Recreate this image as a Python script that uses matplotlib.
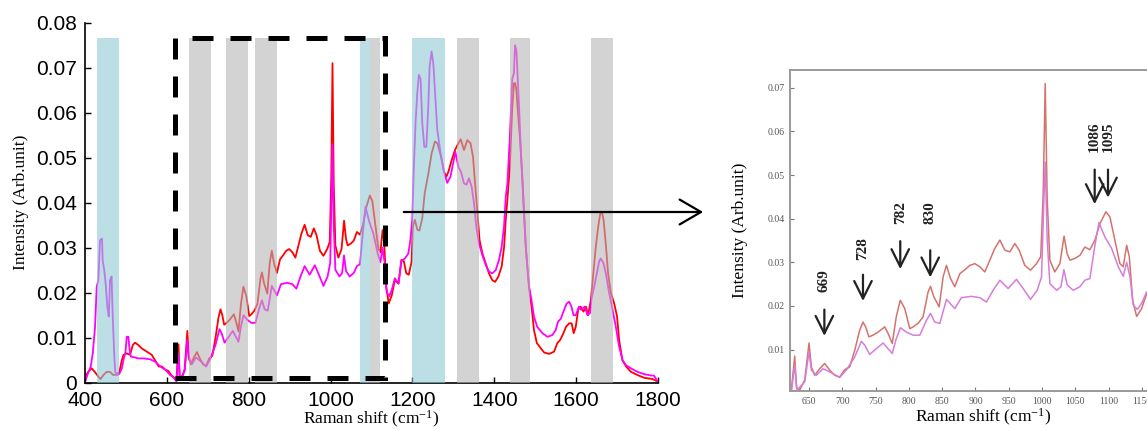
import matplotlib
matplotlib.use('Agg')
import matplotlib.pyplot as plt
from matplotlib.patches import Rectangle, FancyArrowPatch

plt.rcParams['mathtext.default'] = 'regular'

# spectrum 1 (red trace)
shift_red = [400, 408, 416, 424, 433, 438, 445, 453, 461, 469, 477, 484, 490, 494, 502, 510,
             517, 522, 530, 539, 551, 563, 571, 580, 588, 596, 604, 612, 617,
             623.4, 628.5, 631, 636, 643.5, 650, 653.5, 658.5, 666, 673.5, 681, 688.5, 696,
             703.6, 711, 718.6, 726, 731, 735, 740, 746, 753.7, 763.7, 768.7, 775, 781, 787,
             793.8, 801.3, 806.3, 813.8, 821.3, 828.8, 832.4, 837.4, 845.4, 851.4, 856.4,
             862.4, 868.9, 876.5, 884, 891.5, 899, 906.5, 914, 921.5, 929, 936.6, 944, 951.6,
             959, 965.6, 974, 982.6, 991.7, 998, 1001.7, 1004.7, 1007.7, 1011.7, 1019, 1026.8,
             1033, 1037.6, 1041.8, 1049.3, 1056.8, 1064.3, 1071.8, 1079.4, 1086.9, 1095.9,
             1101.9, 1109.4, 1116.9, 1121.9, 1127, 1131, 1136, 1142, 1149.5, 1157,
             1166, 1173, 1179, 1185, 1191, 1198, 1201, 1206, 1212, 1217, 1224, 1230, 1239, 1247,
             1255, 1261, 1269, 1277, 1283, 1288, 1296, 1304, 1310, 1318, 1326, 1334, 1342, 1348,
             1353, 1359, 1364, 1371, 1379, 1387, 1395, 1402, 1410, 1418, 1424, 1428, 1432, 1438,
             1444, 1448, 1451, 1454, 1458, 1463, 1469, 1473, 1477, 1481, 1485, 1491, 1497, 1504,
             1514, 1522, 1534, 1546, 1554, 1561, 1569, 1575, 1583, 1589, 1594, 1599, 1605, 1611,
             1618, 1624, 1629, 1636, 1642, 1648, 1654, 1659, 1663, 1667, 1673, 1678, 1685, 1693,
             1700, 1705, 1713, 1722, 1734, 1750, 1766, 1787, 1800]
int_red = [0.0013, 0.0024, 0.0032, 0.0024, 0.0013, 0.0008, 0.0017, 0.0024, 0.0024, 0.0017, 0.0018,
           0.0024, 0.0050, 0.0062, 0.0065, 0.0062, 0.0084, 0.0089, 0.0084, 0.0076, 0.0069, 0.0062,
           0.0050, 0.0036, 0.0036, 0.0029, 0.0026, 0.0015, 0.0012,
           0.0007, 0.0085, 0.0014, 0.0007, 0.0030, 0.0115, 0.0060, 0.0041, 0.0056, 0.0068, 0.0053,
           0.0041, 0.0037, 0.0054, 0.0060, 0.0098, 0.0144, 0.0163, 0.0152, 0.0129, 0.0133, 0.0140,
           0.0152, 0.0137, 0.0114, 0.0175, 0.0213, 0.0194, 0.0148, 0.0152, 0.0160, 0.0175, 0.0232,
           0.0245, 0.0221, 0.0198, 0.0267, 0.0293, 0.0263, 0.0244, 0.0274, 0.0283, 0.0293, 0.0297,
           0.0290, 0.0278, 0.0305, 0.0332, 0.0351, 0.0328, 0.0324, 0.0343, 0.0328, 0.0293, 0.0282,
           0.0297, 0.0313, 0.0458, 0.0710, 0.0443, 0.0305, 0.0278, 0.0297, 0.0360, 0.0320, 0.0305,
           0.0309, 0.0316, 0.0335, 0.0329, 0.0351, 0.0389, 0.0416, 0.0404, 0.0351, 0.0297, 0.0290,
           0.0339, 0.0313, 0.0213, 0.0176, 0.0194, 0.0228,
           0.0220, 0.0273, 0.0270, 0.0243, 0.0240, 0.0269, 0.0347, 0.0362, 0.0340, 0.0338, 0.0365,
           0.0421, 0.0465, 0.0510, 0.0536, 0.0532, 0.0506, 0.0469, 0.0458, 0.0469, 0.0495, 0.0517,
           0.0528, 0.0541, 0.0517, 0.0539, 0.0532, 0.0502, 0.0443, 0.0376, 0.0317, 0.0287, 0.0265,
           0.0243, 0.0228, 0.0224, 0.0236, 0.0258, 0.0302, 0.0362, 0.0406, 0.0480, 0.0613, 0.0665,
           0.0666, 0.0650, 0.0599, 0.0539, 0.0450, 0.0376, 0.0302, 0.0254, 0.0211, 0.0169, 0.0117,
           0.0088, 0.0076, 0.0067, 0.0064, 0.0069, 0.0088, 0.0095, 0.0110, 0.0124, 0.0132, 0.0132,
           0.0110, 0.0124, 0.0162, 0.0169, 0.0158, 0.0169, 0.0150, 0.0184, 0.0243, 0.0302, 0.0347,
           0.0376, 0.0379, 0.0362, 0.0302, 0.0243, 0.0199, 0.0176, 0.0147, 0.0095, 0.0050, 0.0036,
           0.0024, 0.0017, 0.0011, 0.0008, 0.0002]

# spectrum 2 (magenta trace)
shift_mag = [400, 407, 414, 419, 424.5, 428.6, 432.6, 436.7, 441.6, 443, 447, 450.4, 454.6, 458,
             459.6, 461, 465, 467, 469, 472, 474, 479, 484, 490, 494, 499, 502, 506, 509, 512,
             518, 530, 543, 559, 571, 584, 596, 608, 614,
             623.4, 628.5, 632, 643.5, 650, 653.5, 661, 671, 681, 696, 706, 718.6, 728.6, 733.7,
             741, 751.2, 761.2, 768.7, 775, 781, 787.3, 796.3, 806.3, 816.3, 826.3, 832.4, 838.8,
             846.4, 856.4, 868.9, 878.9, 894, 906.5, 916.5, 926.5, 936.6, 949, 961.5, 971.5,
             982.6, 992.7, 999.2, 1002.7, 1004.7, 1007.7, 1011.7, 1021.8, 1028.3, 1032.8, 1037.8,
             1046.8, 1056.8, 1064.3, 1071.8, 1079.4, 1085.4, 1094.4, 1104.4, 1114.4, 1121.9, 1127,
             1132, 1137, 1143, 1149.5, 1157,
             1166, 1173, 1181.5, 1190, 1195, 1199.5, 1203.5, 1207.6, 1211.8, 1215.7, 1220, 1224,
             1229, 1234, 1238.7, 1242, 1246.8, 1251, 1255, 1260.7, 1268.8, 1277, 1285, 1293, 1301,
             1305, 1312, 1318.5, 1326, 1332, 1338, 1344.7, 1350.4, 1356, 1362.5, 1371, 1379, 1387,
             1395, 1403.5, 1411.5, 1418, 1423.8, 1428, 1432, 1437.7, 1444, 1448, 1450.7, 1454,
             1456.6, 1460.5, 1464.6, 1468.7, 1472.8, 1476.9, 1481, 1485, 1490.8, 1497, 1505,
             1517.7, 1530, 1542, 1550, 1556, 1562.5, 1570.7, 1577, 1583, 1588.6, 1593.6, 1599,
             1607, 1612, 1621, 1627.8, 1634, 1637.7, 1644, 1650.6, 1656, 1660, 1667, 1672.6,
             1680.7, 1689, 1697, 1705, 1713.5, 1721.6, 1733.8, 1750, 1766.4, 1782.7, 1790, 1800]
int_mag = [0.0002, 0.0020, 0.0036, 0.0065, 0.0124, 0.0213, 0.0228, 0.0317, 0.0320, 0.0273, 0.0250,
           0.0221, 0.0169, 0.0147, 0.0184, 0.0228, 0.0236, 0.0169, 0.0117, 0.0050, 0.0024, 0.0017,
           0.0020, 0.0032, 0.0050, 0.0069, 0.0102, 0.0102, 0.0073, 0.0058, 0.0057, 0.0054, 0.0054,
           0.0052, 0.0047, 0.0036, 0.0029, 0.0017, 0.0014,
           0.0003, 0.0064, 0.0007, 0.0026, 0.0095, 0.0053, 0.0041, 0.0056, 0.0049, 0.0036, 0.0053,
           0.0083, 0.0119, 0.0110, 0.0089, 0.0102, 0.0115, 0.0102, 0.0091, 0.0125, 0.0150, 0.0140,
           0.0133, 0.0133, 0.0167, 0.0183, 0.0163, 0.0160, 0.0215, 0.0194, 0.0219, 0.0222, 0.0219,
           0.0209, 0.0236, 0.0259, 0.0240, 0.0261, 0.0240, 0.0215, 0.0236, 0.0267, 0.0443, 0.0530,
           0.0351, 0.0251, 0.0236, 0.0244, 0.0283, 0.0248, 0.0236, 0.0244, 0.0259, 0.0263, 0.0339,
           0.0391, 0.0358, 0.0332, 0.0290, 0.0268, 0.0300, 0.0267, 0.0202, 0.0192, 0.0206, 0.0232,
           0.0221, 0.0270, 0.0276, 0.0287, 0.0317, 0.0362, 0.0480, 0.0577, 0.0643, 0.0684, 0.0675,
           0.0577, 0.0524, 0.0524, 0.0613, 0.0702, 0.0736, 0.0710, 0.0650, 0.0562, 0.0510, 0.0469,
           0.0444, 0.0458, 0.0495, 0.0513, 0.0480, 0.0469, 0.0443, 0.0440, 0.0454, 0.0436, 0.0399,
           0.0347, 0.0310, 0.0283, 0.0262, 0.0247, 0.0243, 0.0250, 0.0273, 0.0302, 0.0347, 0.0413,
           0.0443, 0.0539, 0.0675, 0.0688, 0.0750, 0.0739, 0.0688, 0.0613, 0.0524, 0.0443, 0.0369,
           0.0302, 0.0258, 0.0213, 0.0184, 0.0147, 0.0124, 0.0110, 0.0102, 0.0106, 0.0117, 0.0136,
           0.0142, 0.0162, 0.0176, 0.0180, 0.0169, 0.0150, 0.0150, 0.0169, 0.0162, 0.0169, 0.0150,
           0.0155, 0.0188, 0.0213, 0.0243, 0.0269, 0.0276, 0.0265, 0.0243, 0.0199, 0.0162, 0.0124,
           0.0080, 0.0050, 0.0039, 0.0032, 0.0024, 0.0019, 0.0016, 0.0016, 0.0002]

# highlighted spectral windows (cm-1)
blue_bands = [(430, 482), (1072, 1097), (1199, 1280)]
gray_bands = [(654, 708), (745, 798), (815, 869), (1097, 1121), (1309, 1363), (1438, 1488),
              (1637, 1690)]
band_top = 0.0765

# zoom window shown on the right
zoom_x = (621, 1133)
zoom_y = (0.0011, 0.0766)

# assigned peaks in the zoomed spectrum
peak_labels = [669, 728, 782, 830, 1086, 1095]
peak_nudge = [4, 3, 5, 2, -7, 4]
arrow_top = [0.0198, 0.0278, 0.0355, 0.0334, 0.0519, 0.0519]
arrow_tip = [0.0125, 0.0205, 0.0278, 0.0259, 0.0427, 0.0442]
label_base = [0.0232, 0.0305, 0.0389, 0.0389, 0.0553, 0.0553]

W, H = 1147, 430
fig = plt.figure(figsize=(W / 100, H / 100), dpi=100)

sans = 'Liberation Sans'
serif = 'Liberation Serif'

# ---- full range spectrum ----
ax = fig.add_axes([85 / W, 1 - 382.7 / H, 573 / W, 360 / H])
ax.plot(shift_red, int_red, color='#ff0000', lw=1.3, zorder=2)
ax.plot(shift_mag, int_mag, color='#ff00ff', lw=1.3, zorder=2)
for x0, x1 in blue_bands:
    ax.axvspan(x0, x1, ymin=0, ymax=band_top / 0.08, color='#8fcbd5', alpha=0.6, lw=0, zorder=3)
for x0, x1 in gray_bands:
    ax.axvspan(x0, x1, ymin=0, ymax=band_top / 0.08, color='#b6b6b6', alpha=0.6, lw=0, zorder=3)

box = Rectangle((zoom_x[0], zoom_y[0]), zoom_x[1] - zoom_x[0], zoom_y[1] - zoom_y[0],
                fill=False, ec='black', lw=3.6, ls=(0, (4.2, 3.4)), zorder=4)
ax.add_patch(box)

ax.set_xlim(400, 1800)
ax.set_ylim(0, 0.08)
ax.set_xticks(range(400, 1801, 200))
ax.set_yticks([i / 100 for i in range(9)])
ax.set_yticklabels(['0'] + ['%.2f' % (i / 100) for i in range(1, 9)])
for s in ['top', 'right']:
    ax.spines[s].set_visible(False)
for s in ['left', 'bottom']:
    ax.spines[s].set_linewidth(1.2)
ax.tick_params(direction='in', length=4, width=1, labelsize=15, pad=6)
for lab in ax.get_xticklabels() + ax.get_yticklabels():
    lab.set_fontfamily(sans)
ax.set_xlabel('Raman shift (cm$^{-1}$)', fontsize=12.5, fontfamily=serif)
ax.set_ylabel('Intensity (Arb.unit)', fontsize=12.5, fontfamily=serif)
ax.xaxis.set_label_coords(0.5, -0.072)
ax.yaxis.set_label_coords(-0.098, 0.5)

# arrow leading to the zoomed panel
fig.add_artist(FancyArrowPatch((401 / W, 1 - 212 / H), (706 / W, 1 - 212 / H),
                               transform=fig.transFigure, arrowstyle='->,head_length=0.55,head_width=0.32',
                               mutation_scale=28, lw=1.6, color='black'))

# ---- zoomed spectrum ----
ax2 = fig.add_axes([790 / W, 1 - 391 / H, 368.6 / W, 321 / H])
ax2.plot(shift_red, int_red, color='#d4736b', lw=1.1)
ax2.plot(shift_mag, int_mag, color='#d67ddb', lw=1.1)
ax2.set_xlim(621.4, 1175)
ax2.set_ylim(0.0005, 0.0741)
ax2.set_xticks(range(650, 1151, 50))
ax2.set_yticks([i / 100 for i in range(1, 8)])
for s in ax2.spines.values():
    s.set_color('#9a9a9a')
    s.set_linewidth(1.4)
ax2.tick_params(direction='in', length=3, width=0.8, color='#777777', labelsize=7,
                labelcolor='#555555', pad=4)
for lab in ax2.get_xticklabels() + ax2.get_yticklabels():
    lab.set_fontfamily(serif)
ax2.set_xlabel('Raman shift (cm$^{-1}$)', fontsize=12.5, fontfamily=serif)
ax2.set_ylabel('Intensity (Arb.unit)', fontsize=12.5, fontfamily=serif)
ax2.xaxis.set_label_coords(0.524, -0.05)
ax2.yaxis.set_label_coords(-0.114, 0.5)

for p, d, y0, y1, yl in zip(peak_labels, peak_nudge, arrow_top, arrow_tip, label_base):
    ax2.annotate('', xy=(p + d, y1), xytext=(p + d, y0),
                 arrowprops=dict(arrowstyle='->,head_length=0.7,head_width=0.35',
                                 mutation_scale=18, lw=1.6, color='#222222'))
    ax2.text(p + d, yl, str(p), rotation=90, ha='center', va='bottom', fontsize=11,
             fontweight='bold', fontfamily=serif, color='#222222')

fig.savefig('out.png', dpi=100)
